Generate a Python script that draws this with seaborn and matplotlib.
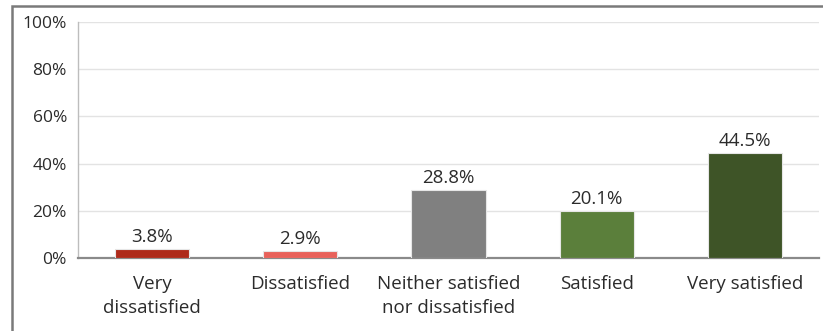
import matplotlib
matplotlib.use("Agg")
import matplotlib.pyplot as plt
import seaborn as sns
import pandas as pd
from matplotlib.patches import Rectangle

categories = ["Very\ndissatisfied", "Dissatisfied", "Neither satisfied\nnor dissatisfied", "Satisfied", "Very satisfied"]
values = [3.8, 2.9, 28.8, 20.1, 44.5]
labels = ["3.8%", "2.9%", "28.8%", "20.1%", "44.5%"]
colors = ["#AE2A1A", "#E8615A", "#808080", "#5B7F3B", "#3E5427"]
yticks = [0, 20, 40, 60, 80, 100]
ytick_labels = ["0%", "20%", "40%", "60%", "80%", "100%"]

sns.set_theme(style="white")
plt.rcParams["font.family"] = ["Open Sans", "DejaVu Sans"]

df = pd.DataFrame({"cat": categories, "val": values})

fig = plt.figure(figsize=(8.23, 3.31), dpi=100)
ax = fig.add_axes([78/823, 73/331, 741/823, 236/331])

sns.barplot(data=df, x="cat", y="val", hue="cat", palette=colors, legend=False,
            width=0.5, saturation=1, ax=ax, edgecolor="#e6e6e6", linewidth=0.8, zorder=3)

ax.set_ylim(0, 100)
ax.set_xlim(-0.5, 4.5)
ax.set_yticks(yticks)
ax.set_yticklabels(ytick_labels, fontsize=12.5, color="#2b2b2b")
ax.tick_params(axis="x", labelsize=13.5, colors="#2b2b2b", length=0, pad=12)
ax.tick_params(axis="y", length=0, pad=8)
for t in ax.get_xticklabels():
    t.set_linespacing(1.45)
ax.set_xlabel("")
ax.set_ylabel("")
ax.yaxis.grid(True, color="#e3e3e3", linewidth=1.0, zorder=0)
ax.set_axisbelow(True)
for s in ["top", "right"]:
    ax.spines[s].set_visible(False)
ax.spines["left"].set_color("#bdbdbd")
ax.spines["left"].set_linewidth(1.0)
ax.spines["bottom"].set_color("#8a8a8a")
ax.spines["bottom"].set_linewidth(1.6)

for i, (v, t) in enumerate(zip(values, labels)):
    ax.annotate(t, (i, v), xytext=(0, 2), textcoords="offset points",
                ha="center", va="bottom", fontsize=13.5, color="#2b2b2b")

# outer frame (left and top edges)
fig.patches.append(Rectangle((12/823, -0.1), 1.2, 1 - 6/331 + 0.1, transform=fig.transFigure,
                             fill=False, edgecolor="#7a7a7a", linewidth=1.8, zorder=0))

fig.savefig("out.png", dpi=100)
